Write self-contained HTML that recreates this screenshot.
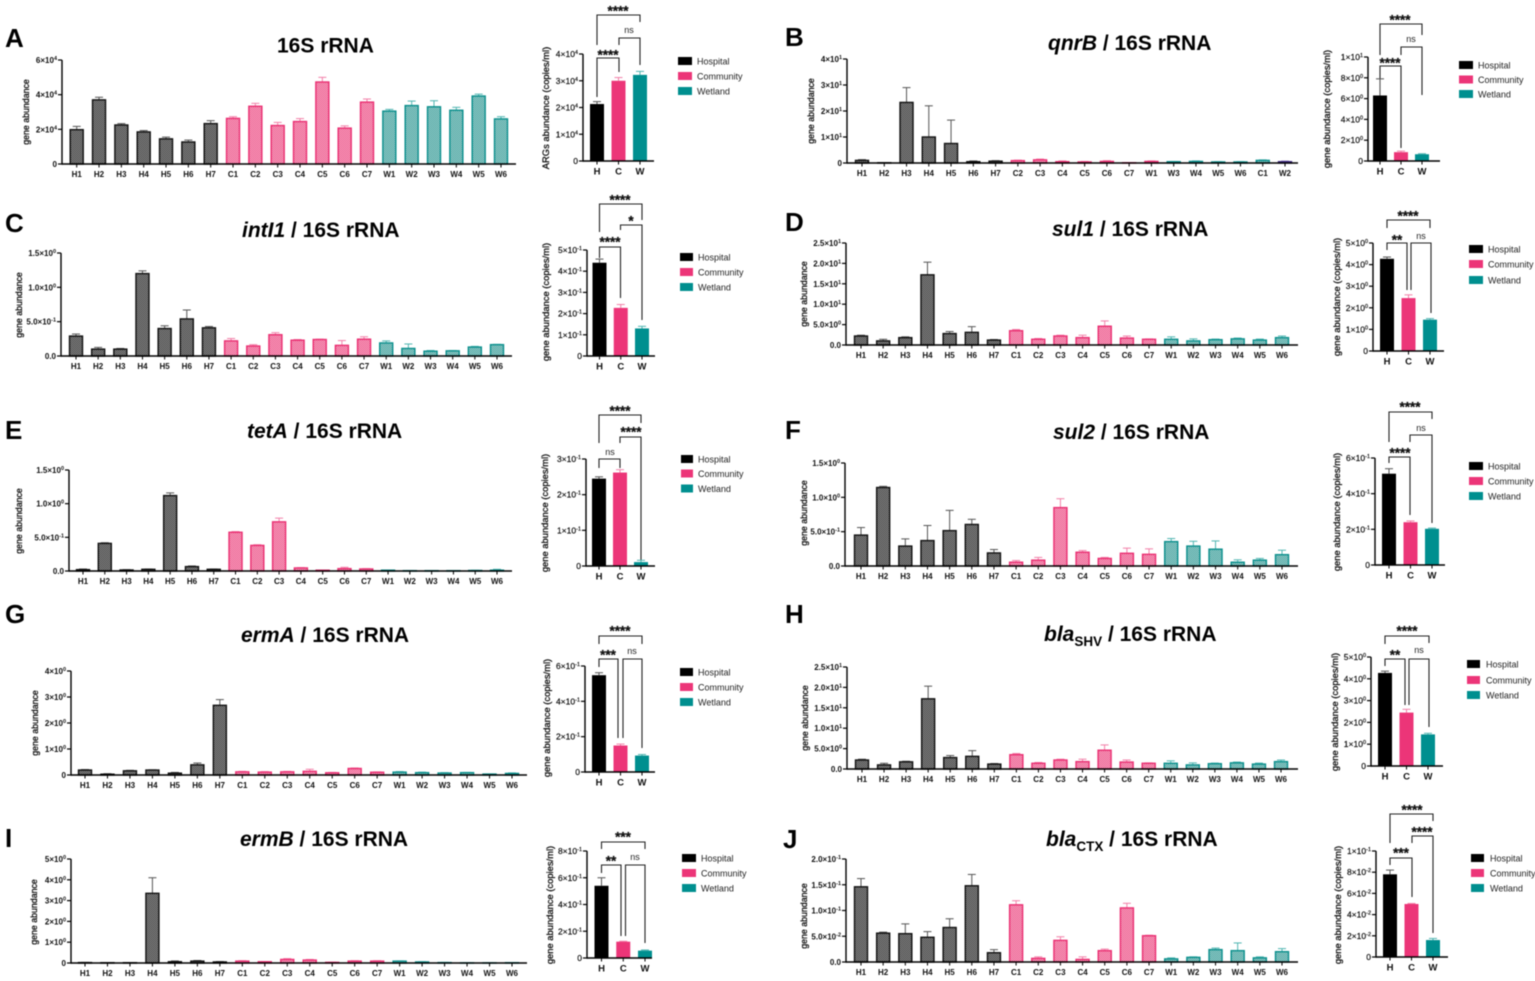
<!DOCTYPE html>
<html lang="en">
<head>
<meta charset="utf-8">
<title>Gene abundance panels</title>
<style>
html,body{margin:0;padding:0;background:#fff;width:1535px;height:981px;overflow:hidden}
svg{display:block;filter:blur(.5px);font-family:"Liberation Sans",sans-serif;fill:#111}
.letter{font-size:26px;font-weight:bold;fill:#000}
.title{font-size:21px;font-weight:bold;fill:#000}
.sub{font-size:13.5px;font-weight:bold}
.ymain{font-size:8.8px;text-anchor:middle;stroke:#111;stroke-width:.3}
.ysmall{font-size:9.4px;text-anchor:middle;stroke:#111;stroke-width:.3}
.leg{font-size:9px;fill:#222}
.br{fill:none;stroke:#222;stroke-width:1.1}
.st{font-size:13.5px;font-weight:bold;text-anchor:middle;fill:#111;stroke:#111;stroke-width:.3}
.ns{font-size:9px;text-anchor:middle;fill:#222}
.tick{font-size:8px;font-weight:bold;text-anchor:end}
.ticks{font-size:8.5px;text-anchor:end;stroke:#111;stroke-width:.2}
.xlab{font-size:8px;font-weight:bold;text-anchor:middle}
.xlabs{font-size:9.5px;font-weight:bold;text-anchor:middle}
</style>
</head>
<body>
<svg id="figure" xmlns="http://www.w3.org/2000/svg" width="1535" height="981" viewBox="0 0 1535 981">
<defs>
<pattern id="hatch-H" width="2" height="2" patternUnits="userSpaceOnUse"><rect width="2" height="2" fill="#979797"/><rect width="1" height="1" fill="#3a3a3a"/><rect x="1" y="1" width="1" height="1" fill="#3a3a3a"/></pattern>
<pattern id="hatch-C" width="2" height="2" patternUnits="userSpaceOnUse"><rect width="2" height="2" fill="#f9b4cb"/><rect width="1" height="1" fill="#ea4f86"/><rect x="1" y="1" width="1" height="1" fill="#ea4f86"/></pattern>
<pattern id="hatch-W" width="2" height="2" patternUnits="userSpaceOnUse"><rect width="2" height="2" fill="#a9d6d3"/><rect width="1" height="1" fill="#3f9d9a"/><rect x="1" y="1" width="1" height="1" fill="#3f9d9a"/></pattern>
<pattern id="hatch-P" width="2" height="2" patternUnits="userSpaceOnUse"><rect width="2" height="2" fill="#8a78b8"/><rect width="1" height="1" fill="#3f2a80"/><rect x="1" y="1" width="1" height="1" fill="#3f2a80"/></pattern>
</defs>

<text class="letter" x="5" y="47">A</text>
<text class="letter" x="785" y="46">B</text>
<text class="letter" x="5" y="232">C</text>
<text class="letter" x="785" y="231">D</text>
<text class="letter" x="5" y="439">E</text>
<text class="letter" x="785" y="439">F</text>
<text class="letter" x="5" y="623">G</text>
<text class="letter" x="785" y="623">H</text>
<text class="letter" x="5" y="847">I</text>
<text class="letter" x="783" y="848">J</text>

<text class="title" x="277" y="52.5">16S rRNA</text>
<text class="title" x="1048" y="50"><tspan font-style="italic">qnrB</tspan> / 16S rRNA</text>
<text class="title" x="242" y="237"><tspan font-style="italic">intI1</tspan> / 16S rRNA</text>
<text class="title" x="1052" y="236"><tspan font-style="italic">sul1</tspan> / 16S rRNA</text>
<text class="title" x="247" y="438"><tspan font-style="italic">tetA</tspan> / 16S rRNA</text>
<text class="title" x="1053" y="439"><tspan font-style="italic">sul2</tspan> / 16S rRNA</text>
<text class="title" x="241" y="642"><tspan font-style="italic">ermA</tspan> / 16S rRNA</text>
<text class="title" x="1044" y="641"><tspan font-style="italic">bla</tspan><tspan class="sub" dy="5">SHV</tspan><tspan dy="-5"> / 16S rRNA</tspan></text>
<text class="title" x="240" y="846"><tspan font-style="italic">ermB</tspan> / 16S rRNA</text>
<text class="title" x="1046" y="846"><tspan font-style="italic">bla</tspan><tspan class="sub" dy="5">CTX</tspan><tspan dy="-5"> / 16S rRNA</tspan></text>

<text class="ymain" transform="translate(29,112) rotate(-90)">gene abundance</text>
<text class="ymain" transform="translate(814,111) rotate(-90)">gene abundance</text>
<text class="ymain" transform="translate(22,305) rotate(-90)">gene abundance</text>
<text class="ymain" transform="translate(807,294) rotate(-90)">gene abundance</text>
<text class="ymain" transform="translate(22,521) rotate(-90)">gene abundance</text>
<text class="ymain" transform="translate(807,513) rotate(-90)">gene abundance</text>
<text class="ymain" transform="translate(38,723) rotate(-90)">gene abundance</text>
<text class="ymain" transform="translate(808,718) rotate(-90)">gene abundance</text>
<text class="ymain" transform="translate(37,912) rotate(-90)">gene abundance</text>
<text class="ymain" transform="translate(807,916) rotate(-90)">gene abundance</text>

<text class="ysmall" transform="translate(549,108) rotate(-90)">ARGs abundance (copies/ml)</text>
<text class="ysmall" transform="translate(1330,109) rotate(-90)">gene abundance (copies/ml)</text>
<text class="ysmall" transform="translate(549,302) rotate(-90)">gene abundance (copies/ml)</text>
<text class="ysmall" transform="translate(1340,297) rotate(-90)">gene abundance (copies/ml)</text>
<text class="ysmall" transform="translate(548,513) rotate(-90)">gene abundance (copies/ml)</text>
<text class="ysmall" transform="translate(1340,512) rotate(-90)">gene abundance (copies/ml)</text>
<text class="ysmall" transform="translate(550,718) rotate(-90)">gene abundance (copies/ml)</text>
<text class="ysmall" transform="translate(1338,712) rotate(-90)">gene abundance (copies/ml)</text>
<text class="ysmall" transform="translate(553,905) rotate(-90)">gene abundance (copies/ml)</text>
<text class="ysmall" transform="translate(1341,905) rotate(-90)">gene abundance (copies/ml)</text>

<g transform="translate(678,57)">
<rect width="14" height="8" fill="#000"/><text class="leg" x="19" y="7.5">Hospital</text>
<rect y="15" width="14" height="8" fill="#ec3578"/><text class="leg" x="19" y="22.5">Community</text>
<rect y="30" width="14" height="8" fill="#008f8f"/><text class="leg" x="19" y="37.5">Wetland</text>
</g>
<g transform="translate(1459,61)">
<rect width="14" height="8" fill="#000"/><text class="leg" x="19" y="7.5">Hospital</text>
<rect y="14.5" width="14" height="8" fill="#ec3578"/><text class="leg" x="19" y="22">Community</text>
<rect y="29" width="14" height="8" fill="#008f8f"/><text class="leg" x="19" y="36.5">Wetland</text>
</g>
<g transform="translate(680,253)">
<rect width="13" height="8" fill="#000"/><text class="leg" x="18" y="7.5">Hospital</text>
<rect y="15" width="13" height="8" fill="#ec3578"/><text class="leg" x="18" y="22.5">Community</text>
<rect y="30" width="13" height="8" fill="#008f8f"/><text class="leg" x="18" y="37.5">Wetland</text>
</g>
<g transform="translate(1469,245)">
<rect width="14" height="8" fill="#000"/><text class="leg" x="19" y="7.5">Hospital</text>
<rect y="15" width="14" height="8" fill="#ec3578"/><text class="leg" x="19" y="22.5">Community</text>
<rect y="31" width="14" height="8" fill="#008f8f"/><text class="leg" x="19" y="38.5">Wetland</text>
</g>
<g transform="translate(681,455)">
<rect width="12" height="8" fill="#000"/><text class="leg" x="17" y="7.5">Hospital</text>
<rect y="14.5" width="12" height="8" fill="#ec3578"/><text class="leg" x="17" y="22">Community</text>
<rect y="29.5" width="12" height="8" fill="#008f8f"/><text class="leg" x="17" y="37">Wetland</text>
</g>
<g transform="translate(1469,462)">
<rect width="14" height="8" fill="#000"/><text class="leg" x="19" y="7.5">Hospital</text>
<rect y="15" width="14" height="8" fill="#ec3578"/><text class="leg" x="19" y="22.5">Community</text>
<rect y="30" width="14" height="8" fill="#008f8f"/><text class="leg" x="19" y="37.5">Wetland</text>
</g>
<g transform="translate(680,668)">
<rect width="13" height="8" fill="#000"/><text class="leg" x="18" y="7.5">Hospital</text>
<rect y="15" width="13" height="8" fill="#ec3578"/><text class="leg" x="18" y="22.5">Community</text>
<rect y="30" width="13" height="8" fill="#008f8f"/><text class="leg" x="18" y="37.5">Wetland</text>
</g>
<g transform="translate(1467,660)">
<rect width="13" height="8" fill="#000"/><text class="leg" x="19" y="7.5">Hospital</text>
<rect y="16" width="13" height="8" fill="#ec3578"/><text class="leg" x="19" y="23.5">Community</text>
<rect y="31" width="13" height="8" fill="#008f8f"/><text class="leg" x="19" y="38.5">Wetland</text>
</g>
<g transform="translate(682,854)">
<rect width="14" height="8" fill="#000"/><text class="leg" x="19" y="7.5">Hospital</text>
<rect y="15" width="14" height="8" fill="#ec3578"/><text class="leg" x="19" y="22.5">Community</text>
<rect y="30" width="14" height="8" fill="#008f8f"/><text class="leg" x="19" y="37.5">Wetland</text>
</g>
<g transform="translate(1471,854)">
<rect width="13" height="8" fill="#000"/><text class="leg" x="19" y="7.5">Hospital</text>
<rect y="15" width="13" height="8" fill="#ec3578"/><text class="leg" x="19" y="22.5">Community</text>
<rect y="30" width="13" height="8" fill="#008f8f"/><text class="leg" x="19" y="37.5">Wetland</text>
</g>

<g>
<path class="br" d="M597 45V15H640V22"/><text class="st" x="618" y="15.5">****</text>
<path class="br" d="M619 45V38H640V65"/><text class="ns" x="629" y="33">ns</text>
<path class="br" d="M597 97V58H619V72"/><text class="st" x="608" y="59.5">****</text>
</g>
<g>
<path class="br" d="M1380 55V24H1422V35"/><text class="st" x="1400" y="24.5">****</text>
<path class="br" d="M1401 55V47H1422V95"/><text class="ns" x="1411" y="42">ns</text>
<path class="br" d="M1380 95V66H1401V148"/><text class="st" x="1390" y="67.5">****</text>
</g>
<g>
<path class="br" d="M599.5 232V204H642V220"/><text class="st" x="620" y="204.5">****</text>
<path class="br" d="M620.5 230V225H642V320"/><text class="st" x="631" y="225.5">*</text>
<path class="br" d="M599.5 258V247H620.5V298"/><text class="st" x="610" y="246.5">****</text>
</g>
<g>
<path class="br" d="M1387 228V220H1430V228"/><text class="st" x="1408" y="220.5">****</text>
<path class="br" d="M1387 250V243H1407V290"/><text class="st" x="1397" y="244.5">**</text>
<path class="br" d="M1411 290V243H1431V313"/><text class="ns" x="1421" y="239">ns</text>
</g>
<g>
<path class="br" d="M599 443V415H641V423"/><text class="st" x="620" y="415.5">****</text>
<path class="br" d="M620 443V437H641V560"/><text class="st" x="631" y="436.5">****</text>
<path class="br" d="M599 468V459H620V468"/><text class="ns" x="610" y="455">ns</text>
</g>
<g>
<path class="br" d="M1389 442V412H1432V419"/><text class="st" x="1410" y="411.5">****</text>
<path class="br" d="M1410 442V435H1432V523"/><text class="ns" x="1421" y="431">ns</text>
<path class="br" d="M1389 463V457H1410V515"/><text class="st" x="1400" y="457.5">****</text>
</g>
<g>
<path class="br" d="M599 644V636H642V644"/><text class="st" x="620" y="635.5">****</text>
<path class="br" d="M599 667V659H618V738"/><text class="st" x="608" y="659.5">***</text>
<path class="br" d="M623 738V659H642V748"/><text class="ns" x="632" y="654">ns</text>
</g>
<g>
<path class="br" d="M1385 644V636H1429V643"/><text class="st" x="1407" y="635.5">****</text>
<path class="br" d="M1385 666V659H1405V705"/><text class="st" x="1395" y="659.5">**</text>
<path class="br" d="M1409 705V659H1429V727"/><text class="ns" x="1419" y="653">ns</text>
</g>
<g>
<path class="br" d="M601.5 849V842H645V849"/><text class="st" x="623" y="841.5">***</text>
<path class="br" d="M601.5 873V865H621V936"/><text class="st" x="611" y="865.5">**</text>
<path class="br" d="M625.5 936V865H645V943"/><text class="ns" x="635" y="860">ns</text>
</g>
<g>
<path class="br" d="M1390 843V814H1433V821"/><text class="st" x="1412" y="814.5">****</text>
<path class="br" d="M1412 843V836H1433V933"/><text class="st" x="1422" y="836.5">****</text>
<path class="br" d="M1390 865V858H1412V897"/><text class="st" x="1401" y="857.5">***</text>
</g>
</svg>

<script>
const categoriesStandard = ['H1','H2','H3','H4','H5','H6','H7','C1','C2','C3','C4','C5','C6','C7','W1','W2','W3','W4','W5','W6'];
const groupsStandard = ['H','H','H','H','H','H','H','C','C','C','C','C','C','C','W','W','W','W','W','W'];
const categoriesB = ['H1','H2','H3','H4','H5','H6','H7','C2','C3','C4','C5','C6','C7','W1','W3','W4','W5','W6','C1','W2'];
const groupsB = ['H','H','H','H','H','H','H','C','C','C','C','C','C','C','W','W','W','W','W','P'];
const summaryCategories = ['H','C','W'];

const valuesA = [19800,37000,22500,18500,14500,12700,23300,26300,33300,22200,24500,47300,20700,35700,30500,33700,33000,31000,39200,26000];
const errorTopsA = [21700,38500,23300,19300,15500,13800,25000,27300,35000,24000,26200,50000,22000,37500,31500,36300,36500,32700,40300,27300];
const tickValuesA = [0,20000,40000,60000];
const tickLabelsA = ['0','2×10^4','4×10^4','6×10^4'];
const summaryValuesA = [21300,30000,32200];
const summaryErrorTopsA = [22200,31200,33500];
const summaryTickValuesA = [0,10000,20000,30000,40000];
const summaryTickLabelsA = ['0','1×10^4','2×10^4','3×10^4','4×10^4'];

const valuesB = [1.0,0.1,23.3,10,7.5,0.5,0.7,0.9,1.2,0.5,0.4,0.6,0.1,0.6,0.5,0.6,0.4,0.4,1.0,0.5];
const errorTopsB = [1.3,0.15,29,22,16.5,0.8,0.9,1.1,1.5,0.8,0.6,0.9,0.15,0.8,0.6,0.8,0.5,0.5,1.2,0.7];
const tickValuesB = [0,10,20,30,40];
const tickLabelsB = ['0','1×10^1','2×10^1','3×10^1','4×10^1'];
const summaryValuesB = [6.3,0.85,0.65];
const summaryErrorTopsB = [7.9,0.95,0.7];
const summaryTickValuesB = [0,2,4,6,8,10];
const summaryTickLabelsB = ['0','2×10^0','4×10^0','6×10^0','8×10^0','1×10^1'];

const valuesC = [0.29,0.10,0.10,1.20,0.40,0.54,0.41,0.22,0.145,0.31,0.23,0.24,0.155,0.245,0.19,0.11,0.07,0.075,0.13,0.165];
const errorTopsC = [0.32,0.125,0.11,1.24,0.44,0.67,0.43,0.255,0.165,0.34,0.24,0.245,0.225,0.28,0.22,0.175,0.08,0.08,0.14,0.17];
const tickValuesC = [0,0.5,1,1.5];
const tickLabelsC = ['0.0','5.0×10^-1','1.0×10^0','1.5×10^0'];
const summaryValuesC = [0.44,0.227,0.13];
const summaryErrorTopsC = [0.457,0.243,0.14];
const summaryTickValuesC = [0,0.1,0.2,0.3,0.4,0.5];
const summaryTickLabelsC = ['0','1×10^-1','2×10^-1','3×10^-1','4×10^-1','5×10^-1'];

const valuesD = [2.2,1.0,1.8,17.2,2.8,3.1,1.2,3.5,1.4,2.2,1.8,4.6,1.7,1.4,1.4,1.0,1.3,1.5,1.2,1.8];
const errorTopsD = [2.4,1.4,2.0,20.3,3.3,4.5,1.35,3.8,1.6,2.4,2.4,5.9,2.2,1.5,2.0,1.5,1.45,1.7,1.45,2.2];
const tickValuesD = [0,5,10,15,20,25];
const tickLabelsD = ['0.0','5.0×10^0','1.0×10^1','1.5×10^1','2.0×10^1','2.5×10^1'];
const summaryValuesD = [4.27,2.45,1.45];
const summaryErrorTopsD = [4.35,2.6,1.5];
const summaryTickValuesD = [0,1,2,3,4,5];
const summaryTickLabelsD = ['0','1×10^0','2×10^0','3×10^0','4×10^0','5×10^0'];

const valuesE = [0.02,0.41,0.015,0.025,1.12,0.065,0.025,0.575,0.38,0.73,0.045,0.012,0.035,0.03,0.012,0.005,0.005,0.005,0.008,0.012];
const errorTopsE = [0.03,0.42,0.02,0.03,1.16,0.075,0.03,0.585,0.39,0.785,0.05,0.015,0.055,0.035,0.015,0.008,0.006,0.006,0.01,0.025];
const tickValuesE = [0,0.5,1,1.5];
const tickLabelsE = ['0.0','5.0×10^-1','1.0×10^0','1.5×10^0'];
const summaryValuesE = [0.245,0.262,0.011];
const summaryErrorTopsE = [0.25,0.27,0.016];
const summaryTickValuesE = [0,0.1,0.2,0.3];
const summaryTickLabelsE = ['0','1×10^-1','2×10^-1','3×10^-1'];

const valuesF = [0.45,1.143,0.29,0.37,0.515,0.605,0.19,0.055,0.085,0.85,0.2,0.11,0.185,0.17,0.355,0.29,0.245,0.055,0.085,0.165];
const errorTopsF = [0.56,1.16,0.395,0.59,0.81,0.68,0.24,0.08,0.125,0.98,0.225,0.125,0.26,0.25,0.4,0.36,0.365,0.09,0.11,0.23];
const tickValuesF = [0,0.5,1,1.5];
const tickLabelsF = ['0.0','5.0×10^-1','1.0×10^0','1.5×10^0'];
const summaryValuesF = [0.512,0.24,0.203];
const summaryErrorTopsF = [0.54,0.247,0.207];
const summaryTickValuesF = [0,0.2,0.4,0.6];
const summaryTickLabelsF = ['0','2×10^-1','4×10^-1','6×10^-1'];

const valuesG = [0.19,0.03,0.16,0.19,0.07,0.39,2.68,0.12,0.11,0.12,0.14,0.085,0.25,0.105,0.11,0.09,0.075,0.09,0.035,0.06];
const errorTopsG = [0.21,0.05,0.18,0.2,0.1,0.46,2.9,0.14,0.13,0.14,0.22,0.1,0.27,0.12,0.13,0.11,0.09,0.1,0.04,0.08];
const tickValuesG = [0,1,2,3,4];
const tickLabelsG = ['0','1×10^0','2×10^0','3×10^0','4×10^0'];
const summaryValuesG = [0.548,0.15,0.093];
const summaryErrorTopsG = [0.562,0.158,0.099];
const summaryTickValuesG = [0,0.2,0.4,0.6];
const summaryTickLabelsG = ['0','2×10^-1','4×10^-1','6×10^-1'];

const valuesH = [2.2,1.0,1.75,17.2,2.8,3.1,1.2,3.5,1.4,2.2,1.8,4.6,1.7,1.4,1.4,1.0,1.3,1.5,1.2,1.8];
const errorTopsH = [2.4,1.4,1.9,20.3,3.3,4.5,1.35,3.8,1.6,2.4,2.4,5.9,2.2,1.5,2.0,1.5,1.45,1.7,1.45,2.2];
const tickValuesH = [0,5,10,15,20,25];
const tickLabelsH = ['0.0','5.0×10^0','1.0×10^1','1.5×10^1','2.0×10^1','2.5×10^1'];
const summaryValuesH = [4.27,2.45,1.45];
const summaryErrorTopsH = [4.35,2.6,1.5];
const summaryTickValuesH = [0,1,2,3,4,5];
const summaryTickLabelsH = ['0','1×10^0','2×10^0','3×10^0','4×10^0','5×10^0'];

const valuesI = [0.02,0.015,0.015,3.35,0.06,0.09,0.05,0.09,0.06,0.17,0.14,0.03,0.09,0.09,0.09,0.05,0.02,0.005,0.005,0.015];
const errorTopsI = [0.03,0.02,0.02,4.1,0.1,0.12,0.07,0.11,0.07,0.21,0.17,0.04,0.11,0.11,0.1,0.06,0.03,0.01,0.01,0.02];
const tickValuesI = [0,1,2,3,4,5];
const tickLabelsI = ['0','1×10^0','2×10^0','3×10^0','4×10^0','5×10^0'];
const summaryValuesI = [0.54,0.122,0.055];
const summaryErrorTopsI = [0.6,0.125,0.06];
const summaryTickValuesI = [0,0.2,0.4,0.6,0.8];
const summaryTickLabelsI = ['0','2×10^-1','4×10^-1','6×10^-1','8×10^-1'];

const valuesJ = [0.146,0.056,0.055,0.048,0.067,0.148,0.018,0.111,0.007,0.042,0.005,0.022,0.105,0.051,0.006,0.009,0.024,0.022,0.008,0.02];
const errorTopsJ = [0.162,0.058,0.074,0.059,0.084,0.17,0.024,0.119,0.01,0.049,0.01,0.025,0.114,0.052,0.008,0.01,0.027,0.037,0.01,0.026];
const tickValuesJ = [0,0.05,0.1,0.15,0.2];
const tickLabelsJ = ['0.0','5.0×10^-2','1.0×10^-1','1.5×10^-1','2.0×10^-1'];
const summaryValuesJ = [0.078,0.05,0.016];
const summaryErrorTopsJ = [0.082,0.0505,0.0175];
const summaryTickValuesJ = [0,0.02,0.04,0.06,0.08,0.1];
const summaryTickLabelsJ = ['0','2×10^-2','4×10^-2','6×10^-2','8×10^-2','1×10^-1'];

const groupStyles = {
  H: {stroke:'#111111', hatch:'url(#hatch-H)', solid:'#000000', error:'#555555'},
  C: {stroke:'#ea2f72', hatch:'url(#hatch-C)', solid:'#ec3578', error:'#f27fa8'},
  W: {stroke:'#0a8f8c', hatch:'url(#hatch-W)', solid:'#008f8f', error:'#4fb5b1'},
  P: {stroke:'#3f2a80', hatch:'url(#hatch-P)', solid:'#3f2a80', error:'#6f5fa8'}
};

const panels = [
  {id:'a', cats:categoriesStandard, groups:groupsStandard, vals:valuesA, errs:errorTopsA, tv:tickValuesA, tl:tickLabelsA, sv:summaryValuesA, se:summaryErrorTopsA, stv:summaryTickValuesA, stl:summaryTickLabelsA,
   main:{x:62,top:60,base:164,right:516,first:76.7,last:501}, small:{x:583,top:54,base:161,right:654,first:597,last:640}},
  {id:'b', cats:categoriesB, groups:groupsB, vals:valuesB, errs:errorTopsB, tv:tickValuesB, tl:tickLabelsB, sv:summaryValuesB, se:summaryErrorTopsB, stv:summaryTickValuesB, stl:summaryTickLabelsB,
   main:{x:847,top:59,base:163,right:1298,first:862,last:1285}, small:{x:1368,top:57,base:161,right:1440,first:1380,last:1422}},
  {id:'c', cats:categoriesStandard, groups:groupsStandard, vals:valuesC, errs:errorTopsC, tv:tickValuesC, tl:tickLabelsC, sv:summaryValuesC, se:summaryErrorTopsC, stv:summaryTickValuesC, stl:summaryTickLabelsC,
   main:{x:61,top:253,base:356,right:512,first:76,last:497}, small:{x:587,top:250,base:356,right:655,first:599.5,last:642}},
  {id:'d', cats:categoriesStandard, groups:groupsStandard, vals:valuesD, errs:errorTopsD, tv:tickValuesD, tl:tickLabelsD, sv:summaryValuesD, se:summaryErrorTopsD, stv:summaryTickValuesD, stl:summaryTickLabelsD,
   main:{x:846,top:243,base:345,right:1298,first:861,last:1282}, small:{x:1373,top:243,base:351,right:1444,first:1387,last:1430}},
  {id:'e', cats:categoriesStandard, groups:groupsStandard, vals:valuesE, errs:errorTopsE, tv:tickValuesE, tl:tickLabelsE, sv:summaryValuesE, se:summaryErrorTopsE, stv:summaryTickValuesE, stl:summaryTickLabelsE,
   main:{x:69,top:470,base:571,right:512,first:83,last:497}, small:{x:586,top:459,base:566,right:655,first:599,last:641}},
  {id:'f', cats:categoriesStandard, groups:groupsStandard, vals:valuesF, errs:errorTopsF, tv:tickValuesF, tl:tickLabelsF, sv:summaryValuesF, se:summaryErrorTopsF, stv:summaryTickValuesF, stl:summaryTickLabelsF,
   main:{x:845,top:463,base:566,right:1298,first:861,last:1282}, small:{x:1375,top:458,base:565,right:1445,first:1389,last:1432}},
  {id:'g', cats:categoriesStandard, groups:groupsStandard, vals:valuesG, errs:errorTopsG, tv:tickValuesG, tl:tickLabelsG, sv:summaryValuesG, se:summaryErrorTopsG, stv:summaryTickValuesG, stl:summaryTickLabelsG,
   main:{x:71,top:671,base:775,right:527,first:85,last:512}, small:{x:585,top:666,base:772,right:655,first:599,last:642}},
  {id:'h', cats:categoriesStandard, groups:groupsStandard, vals:valuesH, errs:errorTopsH, tv:tickValuesH, tl:tickLabelsH, sv:summaryValuesH, se:summaryErrorTopsH, stv:summaryTickValuesH, stl:summaryTickLabelsH,
   main:{x:847,top:667,base:769,right:1298,first:862,last:1281}, small:{x:1371,top:657,base:766,right:1443,first:1385,last:1428}},
  {id:'i', cats:categoriesStandard, groups:groupsStandard, vals:valuesI, errs:errorTopsI, tv:tickValuesI, tl:tickLabelsI, sv:summaryValuesI, se:summaryErrorTopsI, stv:summaryTickValuesI, stl:summaryTickLabelsI,
   main:{x:71,top:859,base:963,right:527,first:85,last:512}, small:{x:587,top:851,base:958,right:652,first:601.5,last:645}},
  {id:'j', cats:categoriesStandard, groups:groupsStandard, vals:valuesJ, errs:errorTopsJ, tv:tickValuesJ, tl:tickLabelsJ, sv:summaryValuesJ, se:summaryErrorTopsJ, stv:summaryTickValuesJ, stl:summaryTickLabelsJ,
   main:{x:846,top:859,base:962,right:1298,first:861,last:1282}, small:{x:1376,top:851,base:957,right:1448,first:1390,last:1433}}
];

const SVG_NS = 'http://www.w3.org/2000/svg';
const figure = document.getElementById('figure');

function make(tag, attrs, parent) {
  const el = document.createElementNS(SVG_NS, tag);
  for (const k in attrs) el.setAttribute(k, attrs[k]);
  parent.appendChild(el);
  return el;
}
function yScale(layout, ticks) {
  const max = ticks[ticks.length - 1];
  return function (v) { return layout.base - (v / max) * (layout.base - layout.top); };
}
function xScale(layout, count) {
  return function (i) { return layout.first + i * (layout.last - layout.first) / (count - 1); };
}
function writeTickLabel(textEl, label) {
  const parts = label.split('^');
  textEl.textContent = parts[0];
  if (parts[1] !== undefined) {
    const sup = document.createElementNS(SVG_NS, 'tspan');
    sup.setAttribute('font-size', '5.5');
    sup.setAttribute('dy', '-3');
    sup.textContent = parts[1];
    textEl.appendChild(sup);
  }
}
function drawAxes(g, layout, ticks, labels, tickClass) {
  const y = yScale(layout, ticks);
  const axisY = make('line', {x1:layout.x, x2:layout.x, y1:layout.top, y2:layout.base + 0.7, stroke:'#000', 'stroke-width':1.4}, g);
  
  
  const axisX = make('line', {x1:layout.x, x2:layout.right, y1:layout.base, y2:layout.base, stroke:'#000', 'stroke-width':1.4}, g);
  
  
  ticks.forEach(function (t, i) {
    const mark = make('line', {x1:layout.x - 4, x2:layout.x, y1:y(t), y2:y(t), stroke:'#000', 'stroke-width':1.2}, g);
    
    
    const label = make('text', {x:layout.x - 5, y:y(t) + 3, class:tickClass}, g);
    writeTickLabel(label, labels[i]);
    
    
  });
}
function drawMain(p) {
  const g = make('g', {}, figure);
  
  
  const L = p.main;
  const y = yScale(L, p.tv);
  const x = xScale(L, p.cats.length);
  const w = 13;
  p.cats.forEach(function (cat, i) {
    const style = groupStyles[p.groups[i]];
    const stem = make('line', {x1:x(i), x2:x(i), y1:y(p.errs[i]), y2:y(p.vals[i]), stroke:style.error, 'stroke-width':1}, g);
    
    
    const cap = make('line', {x1:x(i) - 4, x2:x(i) + 4, y1:y(p.errs[i]), y2:y(p.errs[i]), stroke:style.error, 'stroke-width':1}, g);
    
    
    const bar = make('rect', {x:x(i) - w / 2, y:y(p.vals[i]), width:w, height:L.base - y(p.vals[i]), fill:style.hatch, stroke:style.stroke, 'stroke-width':1.4}, g);
    
    
    const tick = make('line', {x1:x(i), x2:x(i), y1:L.base, y2:L.base + 3.5, stroke:'#000', 'stroke-width':1}, g);
    
    
    const label = make('text', {x:x(i), y:L.base + 13, class:'xlab'}, g);
    label.textContent = cat;
    
    
  });
  drawAxes(g, L, p.tv, p.tl, 'tick');
}
function drawSummary(p) {
  const g = make('g', {}, figure);
  
  
  const L = p.small;
  const y = yScale(L, p.stv);
  const x = xScale(L, summaryCategories.length);
  const w = 14;
  summaryCategories.forEach(function (cat, i) {
    const style = groupStyles[cat];
    const stem = make('line', {x1:x(i), x2:x(i), y1:y(p.se[i]), y2:y(p.sv[i]), stroke:style.error, 'stroke-width':1}, g);
    
    
    const cap = make('line', {x1:x(i) - 4, x2:x(i) + 4, y1:y(p.se[i]), y2:y(p.se[i]), stroke:style.error, 'stroke-width':1}, g);
    
    
    const bar = make('rect', {x:x(i) - w / 2, y:y(p.sv[i]), width:w, height:L.base - y(p.sv[i]), fill:style.solid}, g);
    
    
    const tick = make('line', {x1:x(i), x2:x(i), y1:L.base, y2:L.base + 3.5, stroke:'#000', 'stroke-width':1}, g);
    
    
    const label = make('text', {x:x(i), y:L.base + 13.5, class:'xlabs'}, g);
    label.textContent = cat;
    
    
  });
  drawAxes(g, L, p.stv, p.stl, 'ticks');
}
panels.forEach(function (p) {
  drawMain(p);
  drawSummary(p);
});
</script>
</body>
</html>
